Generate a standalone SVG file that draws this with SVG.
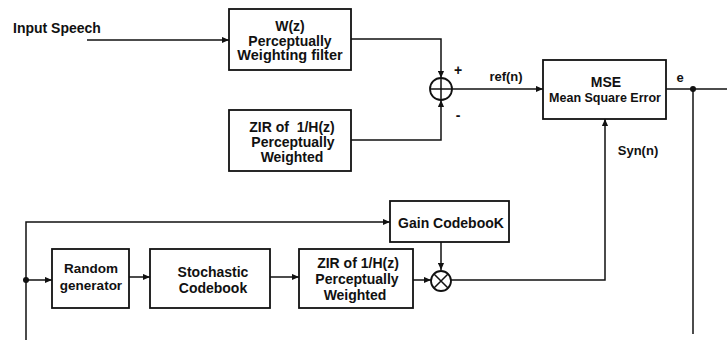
<svg xmlns="http://www.w3.org/2000/svg" width="727" height="340" viewBox="0 0 727 340">
<style>
.box{fill:#fff;stroke:#111;stroke-width:1.8}
.ln{fill:none;stroke:#111;stroke-width:1.5}
.t{font-family:"Liberation Sans",Arial,sans-serif;font-weight:bold;font-size:14px;fill:#111;text-anchor:middle}
.l{text-anchor:start}
</style>
<defs>
<marker id="ar" viewBox="0 0 8 8" refX="8" refY="4" markerWidth="7" markerHeight="7" markerUnits="userSpaceOnUse" orient="auto">
<path d="M0,0.5 L8,4 L0,7.5 Z" fill="#111"/>
</marker>
</defs>
<rect width="727" height="340" fill="#fff"/>
<g id="connectors">
<path class="ln" d="M87,40 H229" marker-end="url(#ar)"/>
<path class="ln" d="M351,39 H441 V78" marker-end="url(#ar)"/>
<path class="ln" d="M351,140 H441 V100" marker-end="url(#ar)"/>
<path class="ln" d="M452,89 H543" marker-end="url(#ar)"/>
<path class="ln" d="M666,89 H727"/>
<circle cx="693" cy="89" r="3" fill="#111"/>
<path class="ln" d="M693,89 V334"/>
<path class="ln" d="M451,280 H605 V119" marker-end="url(#ar)"/>
<path class="ln" d="M26,340 V222 H390" marker-end="url(#ar)"/>
<circle cx="26" cy="280" r="3" fill="#111"/>
<path class="ln" d="M26,280 H52" marker-end="url(#ar)"/>
<path class="ln" d="M129,277 H150" marker-end="url(#ar)"/>
<path class="ln" d="M270,277 H299" marker-end="url(#ar)"/>
<path class="ln" d="M413,280 H431" marker-end="url(#ar)"/>
<path class="ln" d="M441,242 V270" marker-end="url(#ar)"/>
</g>
<g id="input-label">
<text class="t l" x="13" y="33">Input Speech</text>
</g>
<g id="w-filter">
<rect class="box" x="229" y="9" width="122" height="61"/>
<text class="t" x="290" y="31">W(z)</text>
<text class="t" x="290" y="45.5">Perceptually</text>
<text class="t" x="290" y="60" style="font-size:14.5px">Weighting filter</text>
</g>
<g id="zir-top">
<rect class="box" x="229" y="110" width="122" height="61"/>
<text class="t" x="292" y="132" xml:space="preserve">ZIR of  1/H(z)</text>
<text class="t" x="293" y="146.5">Perceptually</text>
<text class="t" x="292" y="162">Weighted</text>
</g>
<g id="sum">
<circle cx="441" cy="89" r="11" fill="#fff" stroke="#111" stroke-width="1.8"/>
<path class="ln" d="M430,89 H452 M441,78 V100"/>
<text class="t" x="458" y="75">+</text>
<text class="t" x="458" y="120">-</text>
</g>
<g id="ref-label">
<text class="t" x="506" y="81" style="font-size:13px">ref(n)</text>
</g>
<g id="mse">
<rect class="box" x="543" y="60" width="123" height="59"/>
<text class="t" x="606" y="87">MSE</text>
<text class="t" x="605" y="102" style="font-size:12.5px">Mean Square Error</text>
</g>
<g id="e-label">
<text class="t" x="680" y="82" style="font-size:13px">e</text>
</g>
<g id="syn-label">
<text class="t" x="638" y="155" style="font-size:13px">Syn(n)</text>
</g>
<g id="gain">
<rect class="box" x="390" y="201" width="119" height="41"/>
<text class="t" x="451" y="228">Gain CodebooK</text>
</g>
<g id="random">
<rect class="box" x="52" y="249" width="77" height="59"/>
<text class="t" x="91" y="273" style="font-size:13.5px">Random</text>
<text class="t" x="91" y="290" style="font-size:13.5px">generator</text>
</g>
<g id="stochastic">
<rect class="box" x="150" y="249" width="120" height="59"/>
<text class="t" x="213" y="277">Stochastic</text>
<text class="t" x="213" y="293">Codebook</text>
</g>
<g id="zir-bottom">
<rect class="box" x="299" y="249" width="114" height="59"/>
<text class="t" x="358" y="268">ZIR of 1/H(z)</text>
<text class="t" x="357" y="284">Perceptually</text>
<text class="t" x="355" y="300">Weighted</text>
</g>
<g id="mult">
<circle cx="441" cy="281" r="10" fill="#fff" stroke="#111" stroke-width="1.8"/>
<path class="ln" d="M434,274 L448,288 M448,274 L434,288"/>
</g>
</svg>
